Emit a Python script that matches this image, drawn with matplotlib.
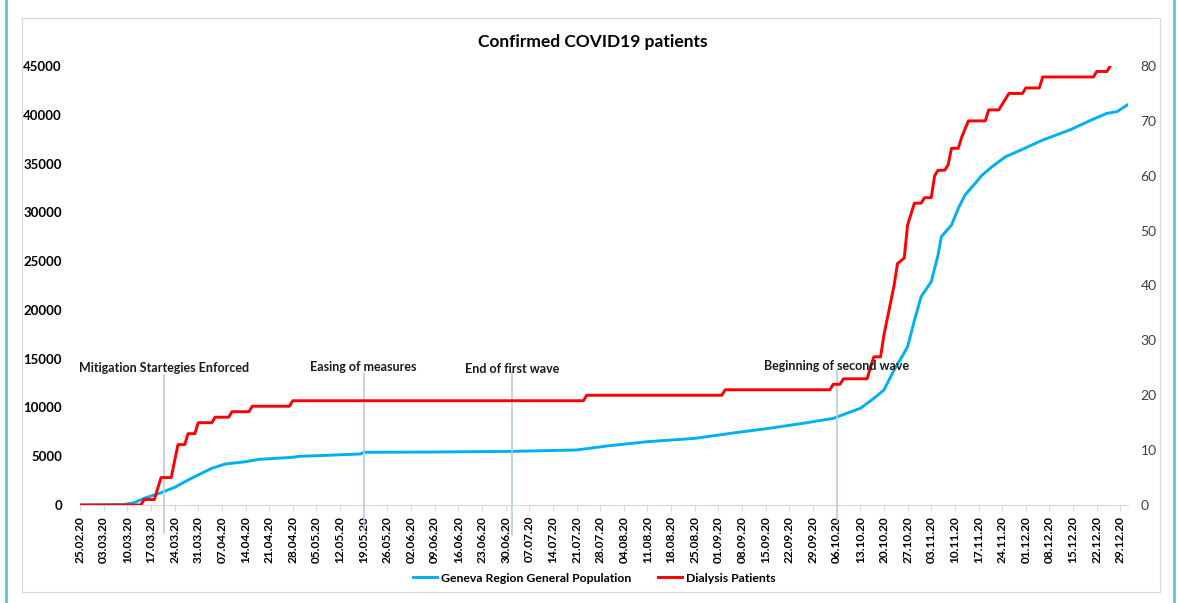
import matplotlib
matplotlib.use("Agg")
import matplotlib.pyplot as plt
import matplotlib.dates as mdates
import matplotlib.transforms as mtransforms
from matplotlib.patches import Rectangle
from matplotlib.lines import Line2D
import pandas as pd

plt.rcParams['font.family'] = ['Lato', 'DejaVu Sans']

# Geneva region general population (left axis)
gen_dates = ["2020-02-25", "2020-03-09", "2020-03-12", "2020-03-15", "2020-03-20", "2020-03-24",
             "2020-03-28", "2020-04-01", "2020-04-04", "2020-04-08", "2020-04-14", "2020-04-18",
             "2020-04-28", "2020-04-30", "2020-05-08", "2020-05-18", "2020-05-19", "2020-06-08",
             "2020-07-02", "2020-07-21", "2020-07-30", "2020-08-11", "2020-08-25", "2020-09-06",
             "2020-09-16", "2020-09-26", "2020-10-05", "2020-10-09", "2020-10-13", "2020-10-17",
             "2020-10-20", "2020-10-23", "2020-10-26", "2020-10-27", "2020-10-29", "2020-10-31",
             "2020-11-03", "2020-11-05", "2020-11-06", "2020-11-09", "2020-11-11", "2020-11-13",
             "2020-11-16", "2020-11-18", "2020-11-21", "2020-11-25", "2020-11-30", "2020-12-06",
             "2020-12-14", "2020-12-20", "2020-12-25", "2020-12-28", "2020-12-31"]
gen_vals = [0, 50, 240, 690, 1260, 1810, 2560, 3250, 3760, 4200, 4440, 4680, 4890, 4990, 5090,
            5230, 5400, 5430, 5500, 5640, 6050, 6490, 6830, 7410, 7860, 8370, 8880, 9400, 9910,
            10930, 11790, 13840, 15600, 16230, 18900, 21350, 22890, 25600, 27500, 28700, 30400,
            31780, 32970, 33800, 34680, 35700, 36460, 37410, 38440, 39400, 40150, 40320, 41000]

# dialysis patients (right axis)
dial_dates = ["2020-02-25", "2020-03-14", "2020-03-15", "2020-03-18", "2020-03-20", "2020-03-23",
              "2020-03-24", "2020-03-25", "2020-03-27", "2020-03-28", "2020-03-30", "2020-03-31",
              "2020-04-04", "2020-04-05", "2020-04-09", "2020-04-10", "2020-04-15", "2020-04-16",
              "2020-04-27", "2020-04-28", "2020-07-23", "2020-07-24", "2020-09-02", "2020-09-03",
              "2020-10-04", "2020-10-05", "2020-10-07", "2020-10-08", "2020-10-15", "2020-10-16",
              "2020-10-17", "2020-10-19", "2020-10-20", "2020-10-21", "2020-10-23", "2020-10-24",
              "2020-10-26", "2020-10-27", "2020-10-29", "2020-10-31", "2020-11-01", "2020-11-03",
              "2020-11-04", "2020-11-05", "2020-11-07", "2020-11-08", "2020-11-09", "2020-11-11",
              "2020-11-12", "2020-11-14", "2020-11-19", "2020-11-20", "2020-11-23", "2020-11-26",
              "2020-11-30", "2020-12-01", "2020-12-05", "2020-12-06", "2020-12-21", "2020-12-22",
              "2020-12-25", "2020-12-26"]
dial_vals = [0, 0, 1, 1, 5, 5, 8, 11, 11, 13, 13, 15, 15, 16, 16, 17, 17, 18, 18, 19, 19, 20, 20,
             21, 21, 22, 22, 23, 23, 25, 27, 27, 31, 34, 40, 44, 45, 51, 55, 55, 56, 56, 60, 61,
             61, 62, 65, 65, 67, 70, 70, 72, 72, 75, 75, 76, 76, 78, 78, 79, 79, 80]

# event markers
event_dates = ["2020-03-21", "2020-05-19", "2020-07-02", "2020-10-06"]
event_labels = ["Mitigation Startegies Enforced", "Easing of measures", "End of first wave",
                "Beginning of second wave"]

tick_dates = pd.date_range("2020-02-25", "2020-12-29", freq="7D")

W, H = 1178, 603
fig = plt.figure(figsize=(W / 100, H / 100), dpi=100)
fig.patch.set_facecolor("white")

# page border / chart frame
fig.add_artist(Line2D([6 / W, 6 / W], [0, 1], color="#5cc6d8", lw=2))
fig.add_artist(Line2D([1174 / W, 1174 / W], [0, 1], color="#5cc6d8", lw=2))
fig.add_artist(Rectangle((22 / W, 1 - 592 / H), (1160 - 22) / W, (592 - 18) / H,
                         fill=False, ec="#d9d9d9", lw=0.9))

ax = fig.add_axes([80 / W, 1 - 505 / H, (1128 - 80) / W, 439 / H])
ax2 = ax.twinx()

gd = pd.to_datetime(gen_dates)
dd = pd.to_datetime(dial_dates)
ax.plot(gd, gen_vals, color="#00b0f0", lw=2.1, solid_joinstyle="round")
ax2.plot(dd, dial_vals, color="#ff0000", lw=2.1, solid_joinstyle="round")

ax.set_xlim(pd.Timestamp("2020-02-25"), pd.Timestamp("2020-12-31 06:00"))
ax.set_ylim(0, 45000)
ax2.set_ylim(0, 80)
ax.set_yticks(range(0, 45001, 5000))
ax2.set_yticks(range(0, 81, 10))

ax.set_xticks(tick_dates)
ax.xaxis.set_major_formatter(mdates.DateFormatter("%d.%m.%y"))
for lab in ax.get_xticklabels():
    lab.set_rotation(90)
    lab.set_fontweight("bold")
    lab.set_fontsize(8.6)
    lab.set_va("top")
    lab.set_ha("center")
ax.tick_params(axis="x", length=4, color="#d9d9d9", pad=4, labelcolor="black")
ax.tick_params(axis="y", length=0, pad=13, labelsize=9.5, labelcolor="black")
for lab in ax.get_yticklabels():
    lab.set_fontweight("bold")
ax2.tick_params(axis="y", length=0, pad=9, labelsize=10, labelcolor="#404040")

for a in (ax, ax2):
    for s in ("top", "left", "right"):
        a.spines[s].set_visible(False)
    a.spines["bottom"].set_color("#d9d9d9")
ax2.spines["bottom"].set_visible(False)

# vertical event lines with labels
trans = mtransforms.blended_transform_factory(ax.transData, ax.transAxes)
line_spans = [(0.296, -0.064), (0.300, -0.057), (0.302, -0.068), (0.307, -0.039)]
label_y = [0.298, 0.300, 0.295, 0.303]
for d, lab, (y0, y1), ly in zip(event_dates, event_labels, line_spans, label_y):
    x = pd.Timestamp(d)
    ax2.plot([x, x], [y0, y1], transform=trans, color="#b4c7e7", lw=1.1, clip_on=False, zorder=1)
    ax2.text(x, ly, lab, transform=trans, ha="center", va="bottom", fontsize=9,
             fontweight="bold", color="#1a1a1a")

fig.text(593 / W, 1 - 42 / H, "Confirmed COVID19 patients", ha="center", va="center",
         fontsize=12.5, fontweight="bold")

handles = [Line2D([], [], color="#00b0f0", lw=2.1), Line2D([], [], color="#ff0000", lw=2.1)]
leg = fig.legend(handles, ["Geneva Region General Population", "Dialysis Patients"],
                 loc="center", bbox_to_anchor=(594 / W, 1 - 578 / H), ncol=2, frameon=False,
                 prop={"weight": "bold", "size": 8.8}, handlelength=2, handletextpad=0.3,
                 columnspacing=2.2)

fig.savefig("out.png", dpi=100)
